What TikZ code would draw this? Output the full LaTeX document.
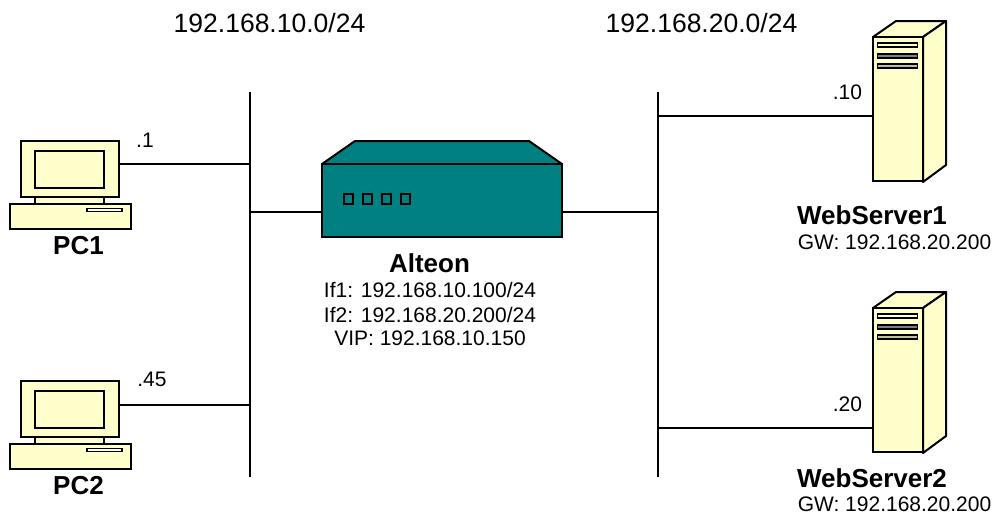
\documentclass[tikz,border=0pt]{standalone}
\usepackage{fontspec}
\setmainfont{Liberation Sans}
\definecolor{devicecolor}{RGB}{255,255,204}
\definecolor{switchcolor}{RGB}{0,128,128}
\tikzset{
    part/.style={
        rectangle,
        draw=black,
        line width=2pt,
        inner sep=0pt,
        fill=devicecolor
    },
    slot/.style={part, line width=1.6pt, minimum width=40pt, minimum height=4pt},
    led/.style={part, fill=switchcolor, minimum width=9pt, minimum height=10pt},
    link/.style={line width=1.5pt},
    subnet/.style={font=\fontsize{26.5}{30}\selectfont},
    iplabel/.style={font=\fontsize{21}{24}\selectfont},
    devicename/.style={font=\fontsize{26}{30}\selectfont\bfseries},
    pc/.pic={
        \node[part, minimum width=98pt, minimum height=56pt] (-mon) at (49,28) {};
        \node[part, minimum width=69pt, minimum height=37pt] (-screen) at (49,28) {};
        \node[part, minimum width=69pt, minimum height=7pt] (-neck) at (49,59.5) {};
        \node[part, minimum width=121pt, minimum height=25pt] (-base) at (49.5,75.5) {};
        \node[part, line width=1.6pt, minimum width=35pt, minimum height=3pt] (-slot) at (84,69) {};
    },
    server/.pic={
        \draw[part, line join=round] (0,16) -- (23,0) -- (73,0) -- (50,16) -- cycle;
        \draw[part, line join=round] (50,16) -- (73,0) -- (73,144) -- (50,161) -- cycle;
        \node[part, minimum width=50pt, minimum height=144pt] (-front) at (25,88) {};
        \node[slot] (-slota) at (24.5,24) {};
        \node[slot, fill=gray] (-slotb) at (24.5,35) {};
        \node[slot, fill=gray!50!devicecolor] (-slotc) at (24.5,45) {};
    }
}
\begin{document}
\begin{tikzpicture}[x=1pt,y=-1pt]
    \useasboundingbox (0,0) rectangle (994,514);

    % Networks
    \node[subnet] (neta) at (269.5,23) {192.168.10.0/24};
    \node[subnet] (netb) at (701.5,23) {192.168.20.0/24};
    \coordinate (busatop) at (250,92);
    \coordinate (busabot) at (250,477);
    \coordinate (busbtop) at (658,92);
    \coordinate (busbbot) at (658,477);
    \draw[link] (busatop) -- (busabot);
    \draw[link] (busbtop) -- (busbbot);

    % PCs
    \pic (pca) at (20.5,141) {pc};
    \pic (pcb) at (20.5,381) {pc};
    \node[devicename] (pcaname) at (78.5,246) {PC1};
    \node[devicename] (pcbname) at (78.5,486) {PC2};
    \node[iplabel] (pcaip) at (145,140) {.1};
    \node[iplabel] (pcbip) at (152,379) {.45};

    % Alteon
    \draw[part, fill=switchcolor, line join=round] (322,164) -- (355,141) -- (529,141) -- (562,164) -- cycle;
    \node[part, fill=switchcolor, minimum width=240pt, minimum height=73pt] (alteon) at (442,200.5) {};
    \foreach \i in {0,1,2,3}
        \node[led] (led\i) at (348+\i*19.3,199) {};
    \node[devicename] (alteonname) at (429.5,263) {Alteon};
    \node[iplabel] (ifa) at (430,290) {If1: 192.168.10.100/24};
    \node[iplabel] (ifb) at (430,315) {If2: 192.168.20.200/24};
    \node[iplabel] (vip) at (430,338) {VIP: 192.168.10.150};

    % Servers
    \pic (srva) at (873,21) {server};
    \pic (srvb) at (873,292) {server};
    \node[devicename] (srvaname) at (872,215) {WebServer1};
    \node[devicename] (srvbname) at (872,478) {WebServer2};
    \node[iplabel] (srvagw) at (894.5,242) {GW: 192.168.20.200};
    \node[iplabel] (srvbgw) at (894.5,504) {GW: 192.168.20.200};
    \node[iplabel] (srvaip) at (847.5,92) {.10};
    \node[iplabel] (srvbip) at (847.5,404) {.20};

    % Links
    \draw[link] (pca-mon.east |- 0,164) -- (busatop |- 0,164);
    \draw[link] (pcb-mon.east |- 0,405) -- (busatop |- 0,405);
    \draw[link] (busatop |- 0,212) -- (alteon.west |- 0,212);
    \draw[link] (alteon.east |- 0,212) -- (busbtop |- 0,212);
    \draw[link] (busbtop |- 0,116) -- (srva-front.west |- 0,116);
    \draw[link] (busbtop |- 0,428) -- (srvb-front.west |- 0,428);
\end{tikzpicture}
\end{document}
